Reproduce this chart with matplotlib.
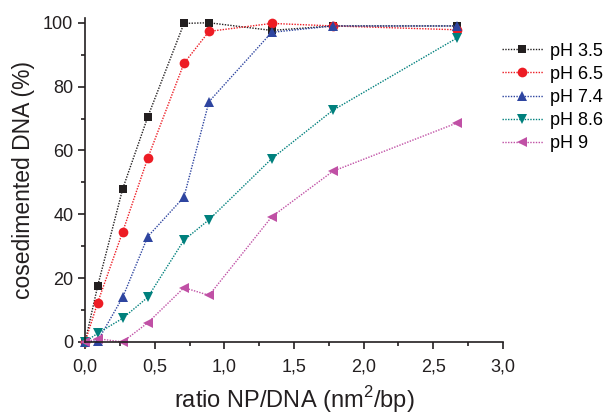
import matplotlib
matplotlib.use("Agg")
import matplotlib.pyplot as plt
from matplotlib.ticker import MultipleLocator, FuncFormatter

plt.rcParams['font.family'] = ['Liberation Sans', 'DejaVu Sans']
plt.rcParams['mathtext.fontset'] = 'custom'
plt.rcParams['mathtext.rm'] = 'Liberation Sans'

# ratio NP/DNA (nm^2/bp)
ratio = [0, 0.09, 0.27, 0.45, 0.71, 0.89, 1.34, 1.78, 2.67]

# cosedimented DNA (%)
ph35 = [0, 17.5, 48, 70.5, 99.8, 100, 97.6, 99, 99]
ph65 = [0, 12.3, 34.5, 57.6, 87.3, 97.3, 99.8, 99, 97.8]
ph74 = [0, 0.3, 14, 33, 45.4, 75.3, 97, 99, 99]
ph86 = [0, 2.7, 7.4, 14, 31.9, 38.3, 57.4, 72.6, 95.2]
ph90 = [0, 1, 0, 6, 17, 14.6, 39.2, 53.5, 68.6]

labels = ['pH 3.5', 'pH 6.5', 'pH 7.4', 'pH 8.6', 'pH 9']
colors = ['#231f20', '#ed1c24', '#2e45a0', '#00807d', '#c050a5']
markers = ['s', 'o', '^', 'v', '<']
sizes = [6, 7, 7.5, 7.5, 7.5]
series = [ph35, ph65, ph74, ph86, ph90]

fig = plt.figure(figsize=(6.08, 4.18), dpi=100)
ax = fig.add_axes([0.14, 0.182, 0.687, 0.775])

for y, lab, c, m, s in zip(series, labels, colors, markers, sizes):
    ax.plot(ratio, y, linestyle=(0, (1, 1)), lw=1, color=c, marker=m,
            markersize=s, markeredgewidth=0, label=lab, clip_on=False)

ax.set_xlim(0, 3.0)
ax.set_ylim(0, 101.5)
ax.xaxis.set_major_locator(MultipleLocator(0.5))
ax.xaxis.set_minor_locator(MultipleLocator(0.25))
ax.yaxis.set_major_locator(MultipleLocator(20))
ax.yaxis.set_minor_locator(MultipleLocator(10))
ax.xaxis.set_major_formatter(FuncFormatter(lambda v, p: f"{v:.1f}".replace('.', ',')))

for side in ['top', 'right']:
    ax.spines[side].set_visible(False)
for side in ['left', 'bottom']:
    ax.spines[side].set_linewidth(1.2)
    ax.spines[side].set_color('#231f20')

ax.tick_params(which='major', direction='out', length=5, width=1.2,
               labelsize=13, colors='#231f20')
ax.tick_params(which='minor', direction='out', length=3, width=1.2, colors='#231f20')
ax.tick_params(axis='x', which='major', pad=7)

ax.set_xlabel('ratio NP/DNA (nm$^{\\mathregular{2}}$/bp)', fontsize=17, color='#231f20', labelpad=6)
ax.set_ylabel('cosedimented DNA (%)', fontsize=16.5, color='#231f20', labelpad=6)

ax.legend(loc='upper left', bbox_to_anchor=(0.825, 0.898), bbox_transform=fig.transFigure,
          frameon=False, fontsize=13, handlelength=2.3, handletextpad=0.4,
          labelspacing=0.34, borderaxespad=0, borderpad=0)

plt.savefig('out.png', dpi=100)
